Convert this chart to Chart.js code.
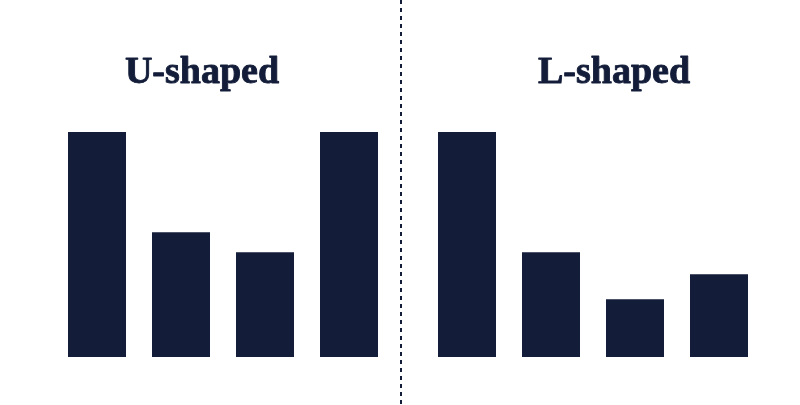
<!DOCTYPE html>
<html>
<head>
<meta charset="utf-8">
<script src="https://cdn.jsdelivr.net/npm/chart.js@4.4.1/dist/chart.umd.min.js"></script>
<style>
  html, body { margin: 0; padding: 0; background: #ffffff; }
  #wrap { position: relative; width: 800px; height: 405px; overflow: hidden; }
  .panel { position: absolute; top: 0; width: 400px; height: 405px; }
  #p1 { left: 0; }
  #p2 { left: 400px; }
  #divider {
    position: absolute; left: 400px; top: 0; width: 2px; height: 405px;
    background: repeating-linear-gradient(to bottom, #131d39 0px, #131d39 4px, transparent 4px, transparent 8px);
  }
</style>
</head>
<body>
<div id="wrap">
  <div class="panel" id="p1"><canvas id="c1"></canvas></div>
  <div class="panel" id="p2"><canvas id="c2"></canvas></div>
  <div id="divider"></div>
</div>
<script>
const categories = ["A", "B", "C", "D"];
const uShapedValues = [100, 55.5, 46.6, 100];
const lShapedValues = [100, 46.6, 25.7, 36.8];
const titles = ["U-shaped", "L-shaped"];

const NAVY = "#131d39";

const panelTitle = {
  id: "panelTitle",
  afterDraw(chart, args, opts) {
    const ctx = chart.ctx;
    ctx.save();
    ctx.font = "bold 38px 'Liberation Serif', serif";
    ctx.fillStyle = NAVY;
    ctx.strokeStyle = NAVY;
    ctx.lineWidth = 0.9;
    ctx.lineJoin = "round";
    ctx.textAlign = "center";
    ctx.textBaseline = "alphabetic";
    ctx.fillText(opts.text, opts.x, opts.y);
    ctx.strokeText(opts.text, opts.x, opts.y);
    ctx.restore();
  }
};

function makeChart(id, values, title, pad, titleX) {
  return new Chart(document.getElementById(id), {
    type: "bar",
    data: {
      labels: categories,
      datasets: [{
        data: values,
        backgroundColor: NAVY,
        borderWidth: 0,
        barPercentage: 1,
        categoryPercentage: 58 / 84
      }]
    },
    options: {
      responsive: true,
      maintainAspectRatio: false,
      animation: false,
      layout: { padding: pad },
      plugins: {
        legend: { display: false },
        tooltip: { enabled: false },
        title: { display: false },
        panelTitle: { text: title, x: titleX, y: 83 }
      },
      scales: {
        x: { display: false },
        y: { display: false, min: 0, max: 100 }
      }
    },
    plugins: [panelTitle]
  });
}

makeChart("c1", uShapedValues, titles[0], { left: 55, right: 9, top: 132, bottom: 48 }, 202);
makeChart("c2", lShapedValues, titles[1], { left: 25, right: 39, top: 132, bottom: 48 }, 214);
</script>
</body>
</html>
